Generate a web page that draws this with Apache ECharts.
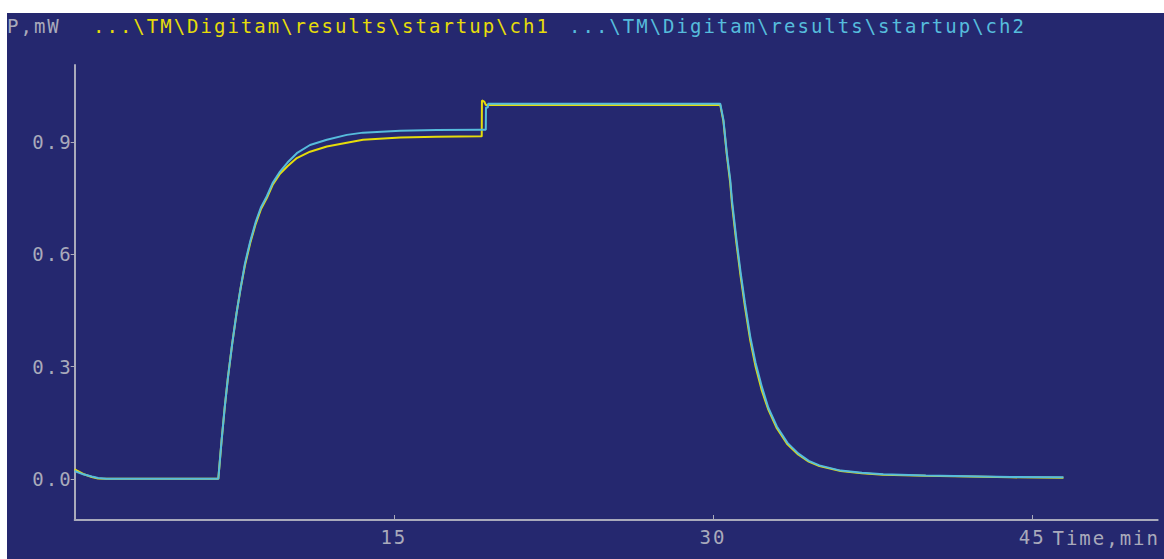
<!DOCTYPE html>
<html>
<head>
<meta charset="utf-8">
<script src="https://cdn.jsdelivr.net/npm/echarts@6/dist/echarts.min.js"></script>
<style>
  html, body { margin: 0; padding: 0; background: #ffffff; }
  #chart {
    position: absolute; left: 7px; top: 13px; width: 1157px; height: 546px;
    letter-spacing: 2px;
  }
</style>
</head>
<body>
<div id="chart"></div>
<script>
// Time in minutes since start of recording
const timeMin = [
  0, 0.4, 0.8, 1.1, 1.5, 3, 5, 6.75,
  6.9, 7.05, 7.2, 7.4, 7.6, 7.8, 8.0, 8.25, 8.5, 8.75, 9.03, 9.3, 9.65, 10.0, 10.44, 11.06, 11.85, 12.79, 13.55, 15.3, 17, 19.13,
  19.14, 19.25, 19.32, 19.33, 19.42, 19.43, 22, 26, 30.34,
  30.49, 30.65, 30.81, 30.89, 31.1, 31.3, 31.5, 31.75, 32.0, 32.3, 32.6, 33.0, 33.5, 34.0, 34.5, 35.0, 36.0, 37.0, 38.0, 40.0, 42.0, 44.0, 46.47
];
// Channel 1 power, mW
const ch1 = [
  0.025, 0.013, 0.005, 0.001, 0.0, 0.0, 0.0, 0.0,
  0.10, 0.19, 0.27, 0.36, 0.44, 0.51, 0.57, 0.63, 0.68, 0.72, 0.75, 0.785, 0.815, 0.835, 0.857, 0.874, 0.888, 0.898, 0.906, 0.912, 0.914, 0.915,
  1.011, 1.008, 0.999, 0.999, 0.999, 0.999, 0.999, 0.999, 0.999,
  0.955, 0.865, 0.79, 0.735, 0.63, 0.54, 0.46, 0.37, 0.30, 0.235, 0.185, 0.135, 0.092, 0.065, 0.046, 0.034, 0.021, 0.015, 0.011, 0.008, 0.006, 0.004, 0.003
];
// Channel 2 power, mW
const ch2 = [
  0.021, 0.012, 0.006, 0.002, 0.0, 0.0, 0.0, 0.0,
  0.10, 0.19, 0.27, 0.36, 0.44, 0.51, 0.575, 0.635, 0.685, 0.725, 0.755, 0.79, 0.821, 0.845, 0.870, 0.892, 0.906, 0.919, 0.925, 0.930, 0.932, 0.933,
  0.933, 0.933, 0.933, 0.992, 0.992, 1.002, 1.002, 1.002, 1.002,
  0.959, 0.870, 0.799, 0.745, 0.64, 0.55, 0.47, 0.38, 0.31, 0.245, 0.19, 0.14, 0.096, 0.068, 0.048, 0.036, 0.022, 0.016, 0.012, 0.009, 0.007, 0.005, 0.004
];
const xTicks = [15, 30, 45];
const yTicks = [0, 0.3, 0.6, 0.9];
const header = ['P,mW', '...\\TM\\Digitam\\results\\startup\\ch1', '...\\TM\\Digitam\\results\\startup\\ch2'];
const xName = 'Time,min';

const BG = '#25286f';
const AXIS = '#a9aabb';
const YELLOW = '#e6dc0a';
const CYAN = '#56bcdc';
const FONT = "'DejaVu Sans Mono', monospace";
const FONT_CSS = "19px 'DejaVu Sans Mono', monospace";

const chart = echarts.init(document.getElementById('chart'), null, { renderer: 'svg' });
chart.setOption({
  animation: false,
  backgroundColor: BG,
  grid: { left: 67.7, top: 52, width: 1083, height: 455, containLabel: false },
  xAxis: {
    type: 'value', min: 0, max: 50.9,
    axisLine: { show: true, onZero: false, lineStyle: { color: AXIS, width: 2 } },
    axisTick: { show: true, inside: true, length: 5, customValues: xTicks, lineStyle: { color: AXIS, width: 1 } },
    axisLabel: { show: true, customValues: xTicks, color: AXIS, fontFamily: FONT, fontSize: 19, margin: 7 },
    splitLine: { show: false }
  },
  yAxis: {
    type: 'value', min: -0.11, max: 1.1057,
    axisLine: { show: true, onZero: false, lineStyle: { color: AXIS, width: 2 } },
    axisTick: { show: true, inside: false, length: 4, customValues: yTicks, lineStyle: { color: AXIS, width: 1 } },
    axisLabel: {
      show: true, customValues: yTicks, color: AXIS, fontFamily: FONT, fontSize: 19, margin: 2,
      formatter: v => v.toFixed(1)
    },
    splitLine: { show: false }
  },
  graphic: [
    { type: 'text', x: 0, y: 3, style: { text: header[0], fill: AXIS, font: FONT_CSS, align: 'left', verticalAlign: 'top' } },
    { type: 'text', x: 86, y: 3, style: { text: header[1], fill: YELLOW, font: FONT_CSS, align: 'left', verticalAlign: 'top' } },
    { type: 'text', x: 562, y: 3, style: { text: header[2], fill: CYAN, font: FONT_CSS, align: 'left', verticalAlign: 'top' } },
    { type: 'text', x: 1153, y: 515, style: { text: xName, fill: AXIS, font: FONT_CSS, align: 'right', verticalAlign: 'top' } }
  ],
  series: [
    {
      name: 'ch1', type: 'line', showSymbol: false, z: 2,
      data: timeMin.map((t, i) => [t, ch1[i]]),
      lineStyle: { color: YELLOW, width: 2 }
    },
    {
      name: 'ch2', type: 'line', showSymbol: false, z: 3,
      data: timeMin.map((t, i) => [t, ch2[i]]),
      lineStyle: { color: CYAN, width: 2 }
    }
  ]
});
</script>
</body>
</html>
